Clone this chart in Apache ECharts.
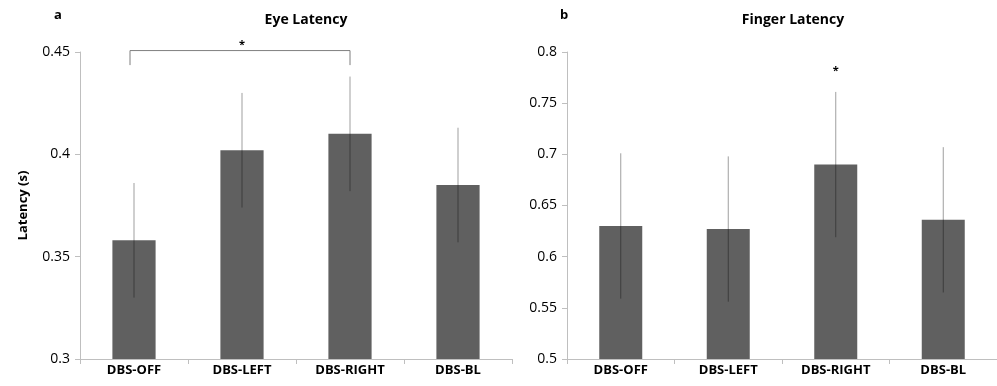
<!DOCTYPE html>
<html>
<head>
<meta charset="utf-8">
<script src="https://cdn.jsdelivr.net/npm/echarts@6/dist/echarts.min.js"></script>
<style>
  html, body { margin: 0; padding: 0; background: #fff; }
  #chart { width: 997px; height: 386px; }
</style>
</head>
<body>
<div id="chart"></div>
<script>
const categories = ["DBS-OFF", "DBS-LEFT", "DBS-RIGHT", "DBS-BL"];
const eyeMean = [0.358, 0.402, 0.410, 0.385];
const eyeErr = [0.028, 0.028, 0.028, 0.028];
const fingerMean = [0.630, 0.627, 0.690, 0.636];
const fingerErr = [0.071, 0.071, 0.071, 0.071];
// significance marks: [fromIdx, toIdx, barTop, legBottom]
const eyeBracket = [[0, 2, 0.4507, 0.4436]];
const eyeStar = [[1, 0.4545]];
const fingerStar = [[2, 0.784]];

const font = "Open Sans";
const axisColor = "#bfbfbf";
const barColor = "#606060";

const chart = echarts.init(document.getElementById("chart"));

function errData(mean, err) {
  return mean.map((m, i) => [i, m - err[i], m + err[i]]);
}

function renderErr(params, api) {
  const lo = api.coord([api.value(0), api.value(1)]);
  const hi = api.coord([api.value(0), api.value(2)]);
  return {
    type: "line",
    shape: { x1: lo[0], y1: lo[1], x2: hi[0], y2: hi[1] },
    style: { stroke: "rgba(0,0,0,0.38)", lineWidth: 1 },
  };
}

function renderBracket(params, api) {
  const a = api.coord([api.value(0), api.value(2)]);
  const b = api.coord([api.value(1), api.value(2)]);
  const aLow = api.coord([api.value(0), api.value(3)]);
  return {
    type: "polyline",
    shape: { points: [[a[0] - 4, aLow[1]], [a[0] - 4, a[1]], [b[0], a[1]], [b[0], aLow[1]]] },
    style: { stroke: "#7f7f7f", lineWidth: 1, fill: null },
  };
}

function renderStar(params, api) {
  const p = api.coord([api.value(0), api.value(1)]);
  return {
    type: "text",
    style: {
      text: "*", x: p[0], y: p[1] + 2, align: "center", verticalAlign: "middle",
      font: "bold 11px " + font, fill: "#000",
    },
  };
}

function makeX(gridIndex) {
  return {
    type: "category",
    gridIndex: gridIndex,
    data: categories,
    axisLine: { lineStyle: { color: axisColor } },
    axisTick: { show: true, length: 5, lineStyle: { color: axisColor } },
    axisLabel: { color: "#000", fontFamily: font, fontWeight: "bold", fontSize: 13, margin: 5 },
  };
}

function makeY(gridIndex, min, max, name) {
  return {
    type: "value",
    gridIndex: gridIndex,
    min: min,
    max: max,
    interval: 0.05,
    name: name,
    nameLocation: "middle",
    nameGap: 50,
    nameTextStyle: { color: "#000", fontFamily: font, fontWeight: "bold", fontSize: 13 },
    splitLine: { show: false },
    axisLine: { show: true, lineStyle: { color: axisColor } },
    axisTick: { show: true, length: 5, lineStyle: { color: axisColor } },
    axisLabel: { color: "#000", fontFamily: font, fontSize: 14, margin: 10 },
  };
}

const option = {
  animation: false,
  backgroundColor: "#fff",
  grid: [
    { left: 80, right: 485, top: 52, bottom: 27 },
    { left: 567, right: -3, top: 52, bottom: 27 },
  ],
  xAxis: [makeX(0), makeX(1)],
  yAxis: [makeY(0, 0.3, 0.45, "Latency (s)"), makeY(1, 0.5, 0.8, "")],
  graphic: [
    { type: "text", x: 58, y: 15, style: { text: "a", font: "bold 13px " + font, fill: "#000", align: "center", verticalAlign: "middle" } },
    { type: "text", x: 306, y: 20, style: { text: "Eye Latency", font: "bold 14px " + font, fill: "#000", align: "center", verticalAlign: "middle" } },
    { type: "text", x: 564, y: 15, style: { text: "b", font: "bold 13px " + font, fill: "#000", align: "center", verticalAlign: "middle" } },
    { type: "text", x: 793, y: 20, style: { text: "Finger Latency", font: "bold 14px " + font, fill: "#000", align: "center", verticalAlign: "middle" } },
  ],
  series: [
    { type: "bar", xAxisIndex: 0, yAxisIndex: 0, data: eyeMean, barWidth: "40%", itemStyle: { color: barColor } },
    { type: "custom", xAxisIndex: 0, yAxisIndex: 0, data: errData(eyeMean, eyeErr), renderItem: renderErr, z: 3 },
    { type: "custom", xAxisIndex: 0, yAxisIndex: 0, data: eyeBracket, renderItem: renderBracket, clip: false, z: 3 },
    { type: "custom", xAxisIndex: 0, yAxisIndex: 0, data: eyeStar, renderItem: renderStar, clip: false, z: 3 },
    { type: "bar", xAxisIndex: 1, yAxisIndex: 1, data: fingerMean, barWidth: "40%", itemStyle: { color: barColor } },
    { type: "custom", xAxisIndex: 1, yAxisIndex: 1, data: errData(fingerMean, fingerErr), renderItem: renderErr, z: 3 },
    { type: "custom", xAxisIndex: 1, yAxisIndex: 1, data: fingerStar, renderItem: renderStar, clip: false, z: 3 },
  ],
};

chart.setOption(option);
</script>
</body>
</html>
